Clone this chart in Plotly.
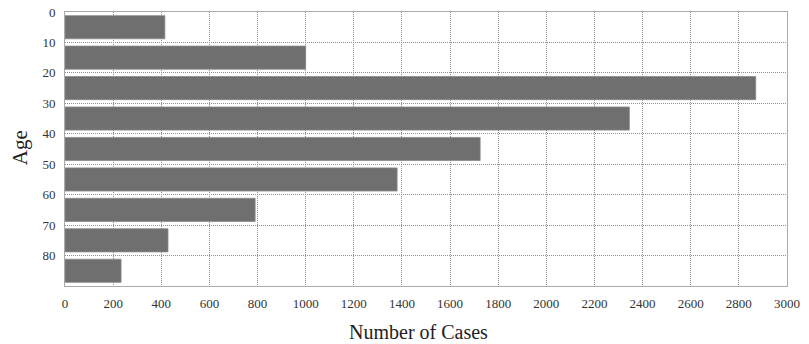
import plotly.graph_objects as go

age_bins = [0, 10, 20, 30, 40, 50, 60, 70, 80]
cases = [415, 1000, 2870, 2345, 1725, 1380, 790, 428, 233]
x_ticks = list(range(0, 3001, 200))
y_ticks = [0, 10, 20, 30, 40, 50, 60, 70, 80]

mid = [a + 5 for a in age_bins]

fig = go.Figure(go.Bar(
    x=cases, y=mid, orientation="h", width=7.6,
    marker=dict(color="#6f6f6f", line=dict(color="#8a8a8a", width=0.8)),
))

fig.update_layout(
    width=809, height=344,
    margin=dict(l=65, r=22, t=12, b=58),
    paper_bgcolor="white", plot_bgcolor="white",
    showlegend=False,
    font=dict(family="Liberation Serif", color="#333"),
    xaxis=dict(
        range=[0, 3000], tickvals=x_ticks, ticktext=[str(v) for v in x_ticks],
        showgrid=True, gridcolor="#8f8f8f", griddash="1px,1px", gridwidth=1,
        showline=True, linecolor="#aaaaaa", mirror=True, automargin=False,
        tickfont=dict(size=13, color="#333"), ticks="", zeroline=False,
        ticklabelstandoff=5,
    ),
    yaxis=dict(
        range=[90, 0], tickvals=y_ticks, ticktext=[str(v) for v in y_ticks],
        showgrid=True, gridcolor="#8f8f8f", griddash="1px,1px", gridwidth=1,
        showline=True, linecolor="#aaaaaa", mirror=True, automargin=False,
        tickfont=dict(size=13, color="#333"), ticks="", zeroline=False,
        ticklabelstandoff=6,
    ),
    annotations=[
        dict(text="Number of Cases", xref="paper", yref="paper", x=0.489, y=-0.168,
             xanchor="center", yanchor="middle", showarrow=False,
             font=dict(size=20, color="#222")),
        dict(text="Age", xref="paper", yref="paper", x=-0.062, y=0.504,
             xanchor="center", yanchor="middle", showarrow=False, textangle=-90,
             font=dict(size=21, color="#222")),
    ],
)

fig.write_html("out.html", config={"displayModeBar": False},
               post_script="document.body.style.margin='0';document.body.style.overflow='hidden';")
